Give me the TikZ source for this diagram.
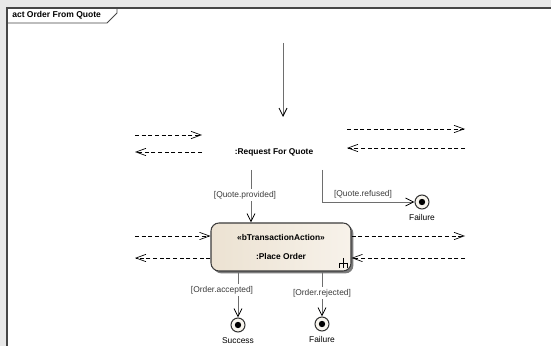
\documentclass[tikz,border=0pt]{standalone}
\usepackage{fontspec}
\setmainfont{Liberation Sans}
\usetikzlibrary{arrows.meta,shadows,positioning}

\begin{document}
\begin{tikzpicture}[x=0.75pt,y=0.75pt,yscale=-1,xscale=1,
  every node/.style={font=\fontsize{6.3}{7.5}\selectfont, inner sep=0.75pt},
  flow/.style={color={rgb, 255:red, 110; green, 110; blue, 110 }, line width=0.7pt,
    -{Straight Barb[length=6pt,width=6pt,color=black,line width=0.6pt]}},
  pinflow/.style={dash pattern={on 3pt off 2pt}, line width=0.5pt,
    -{Straight Barb[length=7.5pt,width=5.5pt,line width=0.5pt]}},
  action/.style={rounded corners=6pt, draw={rgb, 255:red, 60; green, 60; blue, 60 }, line width=0.8pt,
    left color={rgb, 255:red, 236; green, 226; blue, 210 }, right color={rgb, 255:red, 247; green, 242; blue, 234 },
    minimum width=105pt, minimum height=36pt, align=center,
    drop shadow={shadow xshift=1.8pt, shadow yshift=-1.8pt, fill={rgb, 255:red, 90; green, 90; blue, 90 }, opacity=0.8}},
  final/.style={circle, draw={rgb, 255:red, 50; green, 50; blue, 50 }, line width=0.8pt,
    fill={rgb, 255:red, 248; green, 245; blue, 238 }, minimum size=10.5pt, inner sep=0pt,
    path picture={\fill[black] (path picture bounding box.center) circle (2.4pt);}},
  guard/.style={color={rgb, 255:red, 60; green, 60; blue, 60 }, fill=white, inner sep=1.5pt}
]
\useasboundingbox (0,0) rectangle (551,346);

%Frame
\fill [color={rgb, 255:red, 232; green, 232; blue, 232 }] (0,0) rectangle (551,346);
\fill [white] (7,8) rectangle (551,346);
\draw [color={rgb, 255:red, 70; green, 70; blue, 70 }, line width=1.4pt] (7,346) -- (7,8) -- (551,8);
\draw [color={rgb, 255:red, 70; green, 70; blue, 70 }, line width=0.6pt] (7,23) -- (107,23) -- (117,13) -- (117,8);
% Text Node
\node [anchor=west, font=\bfseries\fontsize{6.4}{7.5}\selectfont] (title) at (11,15.5) {act Order From Quote};

%Request For Quote
\node [font=\bfseries\fontsize{6.3}{7.5}\selectfont] (rfq) at (274,152) {:Request For Quote};
\coordinate (rfq-in) at (283,43);
\coordinate (rfq-top) at (283,117);
\coordinate (rfq-prov) at (251,170);
\coordinate (rfq-ref) at (322,170);
\draw [flow] (rfq-in) -- (rfq-top);

%Straight Lines
\coordinate (rl1) at (135,135);
\coordinate (rl2) at (202,135);
\coordinate (rl3) at (202,152);
\coordinate (rl4) at (135,152);
\draw [pinflow] (rl1) -- (rl2);
\draw [pinflow] (rl3) -- (rl4);
\coordinate (rr1) at (347,129);
\coordinate (rr2) at (465,129);
\coordinate (rr3) at (465,148);
\coordinate (rr4) at (347,148);
\draw [pinflow] (rr1) -- (rr2);
\draw [pinflow] (rr3) -- (rr4);

%Place Order
\node [action] (po) at (281,247) {\textbf{«bTransactionAction»}\\[7pt]\textbf{:Place Order}};
\draw [line width=0.6pt] (343,258) -- (343,268) (339,263) -- (347,263) (339,263) -- (339,268) (347,263) -- (347,268);

\coordinate (pl1) at (135,236);
\coordinate (pl2) at (135,258);
\coordinate (pr1) at (465,236);
\coordinate (pr2) at (465,258);
\draw [pinflow] (pl1) -- (pl1 -| po.west);
\draw [pinflow] (pl2 -| po.west) -- (pl2);
\draw [pinflow] (pr1 -| po.east) -- (pr1);
\draw [pinflow] (pr2) -- (pr2 -| po.east);

%Final nodes
\node [final] (fin-ref) at (422,202) {};
\node [below=3pt of fin-ref] (fin-ref-lbl) {Failure};
\node [final] (fin-acc) at (238,325) {};
\node [below=3pt of fin-acc] (fin-acc-lbl) {Success};
\node [final] (fin-rej) at (322,324) {};
\node [below=3pt of fin-rej] (fin-rej-lbl) {Failure};

%Flows
\draw [flow] (rfq-prov) -- (rfq-prov |- po.north);
\draw [flow] (rfq-ref) |- (fin-ref);
\draw [flow] (po.south -| fin-acc) -- (fin-acc);
\draw [flow] (po.south -| fin-rej) -- (fin-rej);

% Text Node
\node [guard] (g-prov) at (245,195) {[Quote.provided]};
\node [guard] (g-ref) at (363,194) {[Quote.refused]};
\node [guard] (g-acc) at (222,290) {[Order.accepted]};
\node [guard] (g-rej) at (322,293) {[Order.rejected]};

\end{tikzpicture}
\end{document}
